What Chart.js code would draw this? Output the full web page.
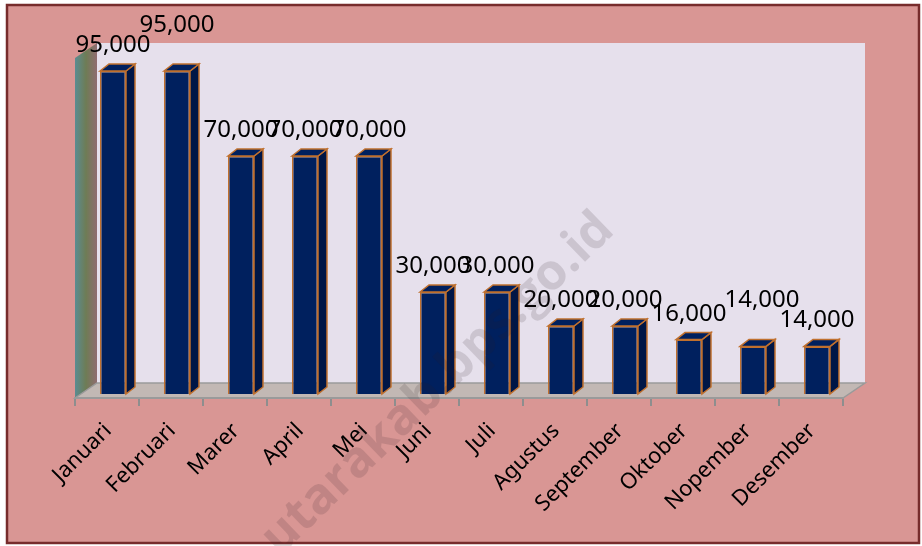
<!DOCTYPE html>
<html>
<head>
<meta charset="utf-8">
<script src="https://cdn.jsdelivr.net/npm/chart.js@4.4.1/dist/chart.umd.min.js"></script>
<style>
  html, body { margin: 0; padding: 0; background: #ffffff; }
  #wrap { width: 922px; height: 546px; }
</style>
</head>
<body>
<div id="wrap"><canvas id="chart" width="922" height="546"></canvas></div>
<script>
// data
const months = ['Januari', 'Februari', 'Marer', 'April', 'Mei', 'Juni', 'Juli',
                'Agustus', 'September', 'Oktober', 'Nopember', 'Desember'];
const values = [95000, 95000, 70000, 70000, 70000, 30000, 30000, 20000, 20000, 16000, 14000, 14000];
const yMin = 0;
const yMax = 100000;

// 3d look settings
const WALL_DX = 22, WALL_DY = -15;   // depth of the floor / back wall
const BAR_SHIFT_X = 6, BAR_SHIFT_Y = -4; // bars sit a little into the floor
const BAR_DX = 9, BAR_DY = -7;       // depth of each bar
const labelFont = '24px "Noto Sans", sans-serif';
const labelLift = { 1: [0, 20], 10: [9, 20] };  // labels that Excel moved

// Draw the frame, walls and floor before anything else
const backdrop = {
  id: 'backdrop',
  beforeDraw(chart) {
    const ctx = chart.ctx;
    const a = chart.chartArea;
    ctx.save();
    ctx.fillStyle = '#ffffff';
    ctx.fillRect(0, 0, chart.width, chart.height);
    ctx.fillStyle = '#D99694';
    ctx.fillRect(7, 5, 912, 538);
    ctx.strokeStyle = '#772C2C';
    ctx.lineWidth = 2.5;
    ctx.strokeRect(7, 5, 912, 538);

    // back wall
    ctx.fillStyle = '#E6E0EC';
    ctx.fillRect(a.left + WALL_DX, a.top + WALL_DY, a.right - a.left, a.bottom - a.top);

    // left side wall
    let g = ctx.createLinearGradient(a.left, 0, a.left + WALL_DX, 0);
    g.addColorStop(0, '#5A8C92');
    g.addColorStop(0.5, '#6E7C55');
    g.addColorStop(1, '#906C70');
    ctx.fillStyle = g;
    ctx.beginPath();
    ctx.moveTo(a.left, a.top);
    ctx.lineTo(a.left + WALL_DX, a.top + WALL_DY);
    ctx.lineTo(a.left + WALL_DX, a.bottom + WALL_DY);
    ctx.lineTo(a.left, a.bottom);
    ctx.closePath();
    ctx.fill();

    // floor
    ctx.fillStyle = '#C2B8B4';
    ctx.beginPath();
    ctx.moveTo(a.left, a.bottom);
    ctx.lineTo(a.left + WALL_DX, a.bottom + WALL_DY);
    ctx.lineTo(a.right + WALL_DX, a.bottom + WALL_DY);
    ctx.lineTo(a.right, a.bottom);
    ctx.closePath();
    ctx.fill();
    ctx.strokeStyle = '#9A9A9A';
    ctx.lineWidth = 1.5;
    ctx.stroke();
    ctx.restore();
  }
};

// Side and top faces of the bars + value labels
const bars3d = {
  id: 'bars3d',
  beforeDatasetsDraw(chart) {
    chart.ctx.save();
    chart.ctx.translate(BAR_SHIFT_X, BAR_SHIFT_Y);
  },
  afterDatasetsDraw(chart) {
    const ctx = chart.ctx;
    const meta = chart.getDatasetMeta(0);
    ctx.lineWidth = 1.5;
    ctx.strokeStyle = '#C0702E';
    meta.data.forEach(bar => {
      const l = bar.x - bar.width / 2, r = bar.x + bar.width / 2;
      // side
      ctx.fillStyle = '#001646';
      ctx.beginPath();
      ctx.moveTo(r, bar.y);
      ctx.lineTo(r + BAR_DX, bar.y + BAR_DY);
      ctx.lineTo(r + BAR_DX, bar.base + BAR_DY);
      ctx.lineTo(r, bar.base);
      ctx.closePath();
      ctx.fill();
      ctx.stroke();
      // top
      ctx.fillStyle = '#00205E';
      ctx.beginPath();
      ctx.moveTo(l, bar.y);
      ctx.lineTo(l + BAR_DX, bar.y + BAR_DY);
      ctx.lineTo(r + BAR_DX, bar.y + BAR_DY);
      ctx.lineTo(r, bar.y);
      ctx.closePath();
      ctx.fill();
      ctx.stroke();
    });
    ctx.restore();

    // value labels
    ctx.save();
    ctx.font = labelFont;
    ctx.fillStyle = '#000000';
    ctx.textAlign = 'center';
    ctx.textBaseline = 'alphabetic';
    meta.data.forEach((bar, i) => {
      const lift = labelLift[i] || [0, 0];
      const txt = values[i].toLocaleString('en-US');
      ctx.fillText(txt, bar.x + BAR_SHIFT_X + lift[0], bar.y + BAR_SHIFT_Y + BAR_DY - 12 - lift[1]);
    });
    ctx.restore();
  }
};

// faint site watermark across the picture
const watermark = {
  id: 'watermark',
  afterDraw(chart) {
    const ctx = chart.ctx;
    ctx.save();
    ctx.beginPath();
    ctx.rect(0, 0, chart.width, chart.height);
    ctx.clip();
    ctx.translate(616, 232);
    ctx.rotate(-44 * Math.PI / 180);
    ctx.font = 'bold 50px "Open Sans", sans-serif';
    ctx.fillStyle = 'rgba(40, 25, 35, 0.14)';
    ctx.textAlign = 'right';
    ctx.textBaseline = 'alphabetic';
    ctx.fillText('utarakab.bps.go.id', 0, 0);
    ctx.restore();
  }
};

new Chart(document.getElementById('chart'), {
  type: 'bar',
  data: {
    labels: months,
    datasets: [{
      data: values,
      backgroundColor: '#00205E',
      borderColor: '#C0702E',
      borderWidth: 1.5,
      categoryPercentage: 1,
      barPercentage: 0.406
    }]
  },
  options: {
    responsive: false,
    animation: false,
    layout: { padding: { left: 75, right: 79, top: 58, bottom: 0 } },
    plugins: {
      legend: { display: false },
      tooltip: { enabled: false }
    },
    scales: {
      y: {
        display: false,
        min: yMin,
        max: yMax
      },
      x: {
        afterFit(scale) { scale.height = 148; },
        grid: {
          offset: true,
          drawOnChartArea: false,
          tickLength: 8,
          color: '#8E8E8E',
          lineWidth: 2
        },
        border: { display: true, color: '#9A9A9A', width: 2 },
        ticks: {
          autoSkip: false,
          minRotation: 45,
          maxRotation: 45,
          labelOffset: 1,
          padding: 12,
          color: '#000000',
          font: { family: '"Noto Sans", sans-serif', size: 22 }
        }
      }
    }
  },
  plugins: [backdrop, bars3d, watermark]
});
</script>
</body>
</html>
